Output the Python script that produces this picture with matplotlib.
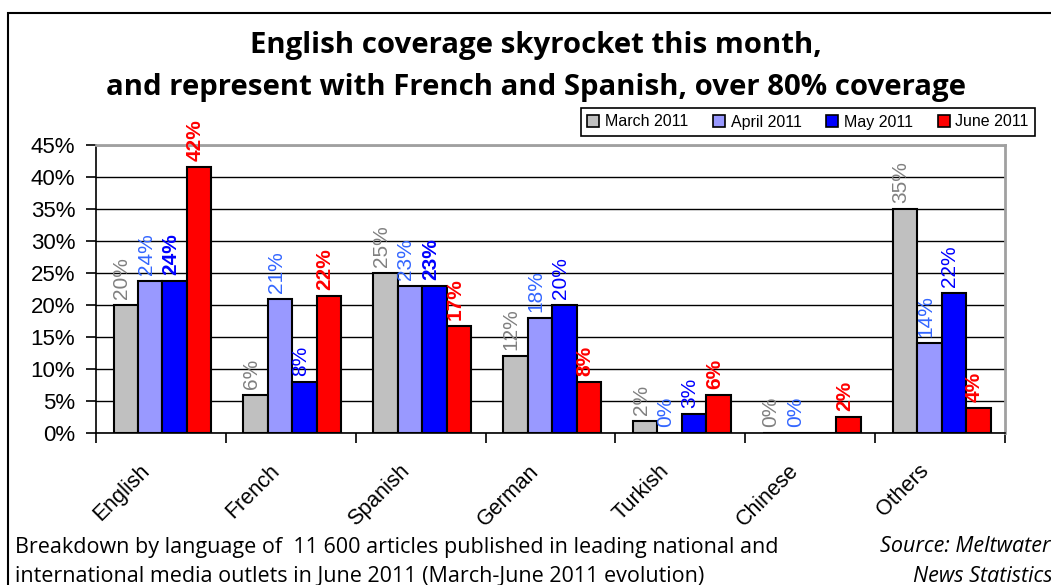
import matplotlib
matplotlib.use('Agg')
import matplotlib.pyplot as plt
import numpy as np
from matplotlib.patches import Rectangle
from matplotlib.transforms import ScaledTranslation

categories = ['English', 'French', 'Spanish', 'German', 'Turkish', 'Chinese', 'Others']
series_names = ['March 2011', 'April 2011', 'May 2011', 'June 2011']
march = [20.0, 6.0, 25.0, 12.0, 1.9, 0.0, 35.0]
april = [23.8, 21.0, 23.0, 18.0, 0.0, 0.0, 14.0]
may = [23.8, 7.9, 23.0, 20.0, 3.0, 0.0, 21.9]
june = [41.6, 21.4, 16.7, 7.9, 6.0, 2.5, 3.9]
march_labels = ['20%', '6%', '25%', '12%', '2%', '0%', '35%']
april_labels = ['24%', '21%', '23%', '18%', '0%', '0%', '14%']
may_labels = ['24%', '8%', '23%', '20%', '3%', '', '22%']
june_labels = ['42%', '22%', '17%', '8%', '6%', '2%', '4%']
yticks = [0, 5, 10, 15, 20, 25, 30, 35, 40, 45]
ytick_labels = ['0%', '5%', '10%', '15%', '20%', '25%', '30%', '35%', '40%', '45%']

values = [march, april, may, june]
labels = [march_labels, april_labels, may_labels, june_labels]
bar_colors = ['#C0C0C0', '#9999FF', '#0000FF', '#FF0000']
label_colors = ['#808080', '#3366FF', '#0000FF', '#FF0000']
label_weights = [
    ['normal'] * 7,
    ['normal'] * 7,
    ['bold', 'normal', 'bold', 'normal', 'normal', 'normal', 'normal'],
    ['bold'] * 7,
]

W, H = 1051, 585
fig = plt.figure(figsize=(W / 100, H / 100), dpi=100)
fig.patch.set_facecolor('white')

L, R, T, B = 96, 1005, 145, 433
ax = fig.add_axes([L / W, 1 - B / H, (R - L) / W, (B - T) / H])

arial = 'Liberation Sans'
calibri = 'Open Sans'

n = len(categories)
x = np.arange(n) + 0.5
bw = 0.1886
for i, (vals, col) in enumerate(zip(values, bar_colors)):
    xs = x + (i - 1.5) * bw + 0.012
    ax.bar(xs, vals, width=bw, color=col, edgecolor='black', linewidth=1.5, zorder=3)
    for xi, v, lab, w in zip(xs, vals, labels[i], label_weights[i]):
        if lab:
            ax.annotate(lab, (xi, v), xytext=(-4, 6), textcoords='offset pixels',
                        rotation=90, ha='center', va='bottom', color=label_colors[i],
                        fontsize=15, fontweight=w, family=arial, zorder=4)

ax.set_xlim(0, n)
ax.set_ylim(0, 45)
ax.set_yticks(yticks)
ax.set_yticklabels(ytick_labels, family=arial, fontsize=16)
ax.yaxis.grid(True, color='black', linewidth=1.0, zorder=0)
ax.set_axisbelow(True)
ax.tick_params(axis='y', length=7, width=1.2, pad=8, direction='out')

ax.set_xticks(np.arange(n + 1))
ax.set_xticklabels([])
ax.set_xticks(x, minor=True)
ax.set_xticklabels(categories, minor=True, rotation=45, ha='right',
                   rotation_mode='anchor', family=arial, fontsize=15.5)
ax.tick_params(axis='x', which='major', length=7, width=1.2, direction='out')
ax.tick_params(axis='x', which='minor', length=0, pad=14)
for lbl in ax.get_xticklabels(minor=True):
    lbl.set_transform(lbl.get_transform() + ScaledTranslation(-0.22, -0.08, fig.dpi_scale_trans))

for s in ['left', 'bottom']:
    ax.spines[s].set_color('black')
    ax.spines[s].set_linewidth(1.2)
for s in ['top', 'right']:
    ax.spines[s].set_color('#A0A0A0')
    ax.spines[s].set_linewidth(2.0)

# legend
handles = [Rectangle((0, 0), 1, 1, facecolor=c, edgecolor='black', linewidth=1.2) for c in bar_colors]
leg = fig.legend(handles, series_names, loc='center', ncol=4,
                 bbox_to_anchor=((581 + 1035) / 2 / W, 1 - 122 / H), bbox_transform=fig.transFigure,
                 frameon=True, fancybox=False, edgecolor='black', framealpha=1,
                 prop={'family': arial, 'size': 11.5}, handlelength=0.75, handleheight=0.75,
                 handletextpad=0.35, columnspacing=1.55, borderpad=0.4)
leg.get_frame().set_linewidth(1.2)

# title
fig.text(536 / W, 1 - 45 / H, 'English coverage skyrocket this month,', ha='center', va='center',
         family=calibri, fontweight='bold', fontsize=21.2)
fig.text(536 / W, 1 - 87 / H, 'and represent with French and Spanish, over 80% coverage', ha='center',
         va='center', family=calibri, fontweight='bold', fontsize=21.2)

# footnotes
fig.text(15 / W, 1 - 547 / H, 'Breakdown by language of  11 600 articles published in leading national and',
         ha='left', va='center', family=calibri, fontsize=15.5)
fig.text(15 / W, 1 - 576 / H, 'international media outlets in June 2011 (March-June 2011 evolution)',
         ha='left', va='center', family=calibri, fontsize=15.5)
fig.text(880 / W, 1 - 547 / H, 'Source: Meltwater', ha='left', va='center', family=calibri,
         fontsize=15.5, style='italic')
fig.text(913 / W, 1 - 576 / H, 'News Statistics', ha='left', va='center', family=calibri,
         fontsize=15.5, style='italic')

# outer frame
fig.patches.append(Rectangle((8 / W, -0.1), 1.2, 1 - 13 / H + 0.1, transform=fig.transFigure,
                             fill=False, edgecolor='black', linewidth=1.5))

fig.savefig('out.png', dpi=100)
